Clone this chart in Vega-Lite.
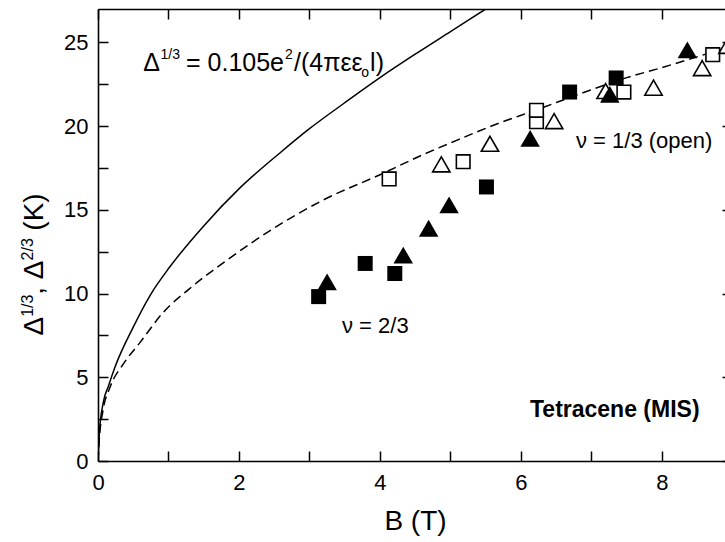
{
  "$schema": "https://vega.github.io/schema/vega-lite/v6.json",
  "width": 627,
  "height": 452,
  "autosize": {"type": "none"},
  "padding": {"left": 98, "top": 9, "right": 0, "bottom": 81},
  "background": "white",
  "config": {
    "view": {"stroke": null},
    "axis": {
      "grid": false,
      "domainColor": "black",
      "domainWidth": 1.6,
      "tickColor": "black",
      "tickWidth": 1.5,
      "labelFont": "Liberation Sans",
      "labelFontSize": 22,
      "labelColor": "black",
      "labelFlush": false,
      "labelOverlap": false,
      "titleFont": "Liberation Sans",
      "titleColor": "black",
      "titleFontWeight": "normal"
    },
    "text": {"font": "Liberation Sans", "color": "black"}
  },
  "datasets": {
    "solid": [
      {"B": 0, "D": 0}, {"B": 0.02, "D": 1.7}, {"B": 0.075, "D": 3.5}, {"B": 0.15, "D": 4.5},
      {"B": 0.24, "D": 5.6}, {"B": 0.5, "D": 8.0}, {"B": 0.74, "D": 9.9}, {"B": 1.02, "D": 11.6},
      {"B": 1.49, "D": 14.0}, {"B": 2.01, "D": 16.3}, {"B": 2.58, "D": 18.4}, {"B": 3.0, "D": 19.85},
      {"B": 3.5, "D": 21.4}, {"B": 4.0, "D": 22.9}, {"B": 4.5, "D": 24.3}, {"B": 5.0, "D": 25.65},
      {"B": 5.5, "D": 27.0}
    ],
    "dashed": [
      {"B": 0, "D": 0}, {"B": 0.02, "D": 1.4}, {"B": 0.07, "D": 3.0}, {"B": 0.17, "D": 4.4},
      {"B": 0.36, "D": 5.8}, {"B": 0.6, "D": 7.1}, {"B": 0.93, "D": 8.9}, {"B": 1.3, "D": 10.3},
      {"B": 1.83, "D": 12.0}, {"B": 2.53, "D": 14.0}, {"B": 3.2, "D": 15.6}, {"B": 4.0, "D": 17.1},
      {"B": 4.61, "D": 18.3}, {"B": 5.0, "D": 19.0}, {"B": 5.7, "D": 20.2}, {"B": 6.17, "D": 20.9},
      {"B": 6.88, "D": 22.0}, {"B": 7.5, "D": 22.9}, {"B": 8.0, "D": 23.5}, {"B": 8.54, "D": 24.2},
      {"B": 9.0, "D": 24.8}
    ],
    "gaps": [
      {"B": 3.13, "D": 9.82, "nu": "2/3", "run": "A"},
      {"B": 3.79, "D": 11.8, "nu": "2/3", "run": "A"},
      {"B": 4.21, "D": 11.2, "nu": "2/3", "run": "A"},
      {"B": 5.51, "D": 16.37, "nu": "2/3", "run": "A"},
      {"B": 6.69, "D": 22.04, "nu": "2/3", "run": "A"},
      {"B": 7.35, "D": 22.88, "nu": "2/3", "run": "A"},
      {"B": 3.25, "D": 10.7, "nu": "2/3", "run": "B"},
      {"B": 4.33, "D": 12.3, "nu": "2/3", "run": "B"},
      {"B": 4.69, "D": 13.9, "nu": "2/3", "run": "B"},
      {"B": 4.98, "D": 15.3, "nu": "2/3", "run": "B"},
      {"B": 6.13, "D": 19.27, "nu": "2/3", "run": "B"},
      {"B": 7.26, "D": 21.9, "nu": "2/3", "run": "B"},
      {"B": 8.36, "D": 24.56, "nu": "2/3", "run": "B"},
      {"B": 4.13, "D": 16.85, "nu": "1/3", "run": "A"},
      {"B": 5.18, "D": 17.88, "nu": "1/3", "run": "A"},
      {"B": 6.22, "D": 20.27, "nu": "1/3", "run": "A"},
      {"B": 6.22, "D": 20.95, "nu": "1/3", "run": "A"},
      {"B": 7.46, "D": 22.04, "nu": "1/3", "run": "A"},
      {"B": 8.72, "D": 24.27, "nu": "1/3", "run": "A"},
      {"B": 4.87, "D": 17.72, "nu": "1/3", "run": "B"},
      {"B": 5.56, "D": 18.95, "nu": "1/3", "run": "B"},
      {"B": 6.47, "D": 20.3, "nu": "1/3", "run": "B"},
      {"B": 7.2, "D": 22.1, "nu": "1/3", "run": "B"},
      {"B": 7.88, "D": 22.3, "nu": "1/3", "run": "B"},
      {"B": 8.57, "D": 23.47, "nu": "1/3", "run": "B"},
      {"B": 8.93, "D": 24.8, "nu": "1/3", "run": "B"}
    ],
    "eqMain": [
      {"B": 0.643, "D": 23.27, "t": "Δ"},
      {"B": 1.248, "D": 23.27, "t": "= 0.105e"},
      {"B": 2.78, "D": 23.27, "t": "/(4πεε"},
      {"B": 3.86, "D": 23.27, "t": "l)"}
    ],
    "eqSup": [
      {"B": 0.887, "D": 23.99, "t": "1/3"},
      {"B": 2.652, "D": 23.99, "t": "2"}
    ],
    "eqSub": [
      {"B": 3.735, "D": 22.95, "t": "o"}
    ],
    "ytMain": [
      {"B": -0.78, "D": 7.5, "t": "Δ"},
      {"B": -0.78, "D": 9.93, "t": ","},
      {"B": -0.78, "D": 10.86, "t": "Δ"},
      {"B": -0.78, "D": 13.76, "t": "(K)"}
    ],
    "ytSup": [
      {"B": -0.922, "D": 8.61, "t": "1/3"},
      {"B": -0.922, "D": 11.98, "t": "2/3"}
    ],
    "notes": [
      {"B": 3.461, "D": 7.62, "t": "ν = 2/3"},
      {"B": 6.78, "D": 18.69, "t": "ν = 1/3 (open)"}
    ],
    "sample": [
      {"B": 6.128, "D": 2.62, "t": "Tetracene (MIS)"}
    ]
  },
  "layer": [
    {
      "data": {"name": "solid"},
      "mark": {"type": "line", "color": "black", "strokeWidth": 1.5, "interpolate": "monotone", "clip": true},
      "encoding": {
        "x": {
          "field": "B", "type": "quantitative",
          "scale": {"domain": [0, 8.894], "nice": false, "zero": false},
          "axis": {
            "orient": "bottom",
            "values": [0, 1, 2, 3, 4, 5, 6, 7, 8],
            "labelExpr": "datum.value % 2 === 0 ? datum.label : ''",
            "tickSize": -10,
            "encode": {"ticks": {"update": {"y2": {"signal": "datum.value % 2 === 0 ? -10 : -5"}}}},
            "labelPadding": 21,
            "title": "B (T)",
            "titleFontSize": 28,
            "titleX": 317,
            "titleY": 68,
            "titleBaseline": "alphabetic",
            "titleAlign": "center"
          }
        },
        "y": {
          "field": "D", "type": "quantitative",
          "scale": {"domain": [0, 27], "nice": false, "zero": true},
          "axis": {
            "orient": "left",
            "values": [0, 2.5, 5, 7.5, 10, 12.5, 15, 17.5, 20, 22.5, 25],
            "labelExpr": "datum.value % 5 === 0 ? datum.label : ''",
            "tickSize": -10,
            "encode": {"ticks": {"update": {"x2": {"signal": "datum.value % 5 === 0 ? 10 : 5"}}}},
            "labelPadding": 20,
            "title": null
          }
        }
      }
    },
    {
      "data": {"name": "dashed"},
      "mark": {"type": "line", "color": "black", "strokeWidth": 1.5, "strokeDash": [9, 5], "interpolate": "monotone", "clip": true},
      "encoding": {
        "x": {
          "field": "B", "type": "quantitative",
          "scale": {"domain": [0, 8.894], "nice": false, "zero": false},
          "axis": {
            "orient": "top",
            "values": [0, 1, 2, 3, 4, 5, 6, 7, 8],
            "labels": false,
            "tickSize": -10,
            "encode": {"ticks": {"update": {"y2": {"signal": "datum.value % 2 === 0 ? 10 : 5"}}}},
            "title": null
          }
        },
        "y": {
          "field": "D", "type": "quantitative",
          "scale": {"domain": [0, 27], "nice": false, "zero": true},
          "axis": {
            "orient": "right",
            "values": [0, 5, 10, 15, 20, 25],
            "labels": false,
            "domain": false,
            "tickSize": -3,
            "title": null
          }
        }
      }
    },
    {
      "data": {"name": "gaps"},
      "transform": [{"filter": "datum.nu === '1/3' && datum.run === 'A'"}],
      "mark": {"type": "point", "shape": "square", "size": 185, "filled": true, "fill": "white", "stroke": "black", "strokeWidth": 1.6, "opacity": 1},
      "encoding": {
        "x": {"field": "B", "type": "quantitative", "scale": {"domain": [0, 8.894], "nice": false, "zero": false}, "axis": null},
        "y": {"field": "D", "type": "quantitative", "scale": {"domain": [0, 27], "nice": false, "zero": true}, "axis": null}
      }
    },
    {
      "data": {"name": "gaps"},
      "transform": [{"filter": "datum.nu === '1/3' && datum.run === 'B'"}],
      "mark": {"type": "point", "shape": "triangle-up", "size": 300, "filled": true, "fill": "white", "stroke": "black", "strokeWidth": 1.6, "opacity": 1},
      "encoding": {
        "x": {"field": "B", "type": "quantitative", "scale": {"domain": [0, 8.894], "nice": false, "zero": false}, "axis": null},
        "y": {"field": "D", "type": "quantitative", "scale": {"domain": [0, 27], "nice": false, "zero": true}, "axis": null}
      }
    },
    {
      "data": {"name": "gaps"},
      "transform": [{"filter": "datum.nu === '2/3' && datum.run === 'A'"}],
      "mark": {"type": "point", "shape": "square", "size": 225, "filled": true, "fill": "black", "strokeWidth": 0, "opacity": 1},
      "encoding": {
        "x": {"field": "B", "type": "quantitative", "scale": {"domain": [0, 8.894], "nice": false, "zero": false}, "axis": null},
        "y": {"field": "D", "type": "quantitative", "scale": {"domain": [0, 27], "nice": false, "zero": true}, "axis": null}
      }
    },
    {
      "data": {"name": "gaps"},
      "transform": [{"filter": "datum.nu === '2/3' && datum.run === 'B'"}],
      "mark": {"type": "point", "shape": "triangle-up", "size": 380, "filled": true, "fill": "black", "strokeWidth": 0, "opacity": 1},
      "encoding": {
        "x": {"field": "B", "type": "quantitative", "scale": {"domain": [0, 8.894], "nice": false, "zero": false}, "axis": null},
        "y": {"field": "D", "type": "quantitative", "scale": {"domain": [0, 27], "nice": false, "zero": true}, "axis": null}
      }
    },
    {
      "data": {"name": "eqMain"},
      "mark": {"type": "text", "align": "left", "baseline": "alphabetic", "fontSize": 25},
      "encoding": {
        "x": {"field": "B", "type": "quantitative", "scale": {"domain": [0, 8.894], "nice": false, "zero": false}, "axis": null},
        "y": {"field": "D", "type": "quantitative", "scale": {"domain": [0, 27], "nice": false, "zero": true}, "axis": null},
        "text": {"field": "t"}
      }
    },
    {
      "data": {"name": "eqSup"},
      "mark": {"type": "text", "align": "left", "baseline": "alphabetic", "fontSize": 14},
      "encoding": {
        "x": {"field": "B", "type": "quantitative", "scale": {"domain": [0, 8.894], "nice": false, "zero": false}, "axis": null},
        "y": {"field": "D", "type": "quantitative", "scale": {"domain": [0, 27], "nice": false, "zero": true}, "axis": null},
        "text": {"field": "t"}
      }
    },
    {
      "data": {"name": "eqSub"},
      "mark": {"type": "text", "align": "left", "baseline": "alphabetic", "fontSize": 14},
      "encoding": {
        "x": {"field": "B", "type": "quantitative", "scale": {"domain": [0, 8.894], "nice": false, "zero": false}, "axis": null},
        "y": {"field": "D", "type": "quantitative", "scale": {"domain": [0, 27], "nice": false, "zero": true}, "axis": null},
        "text": {"field": "t"}
      }
    },
    {
      "data": {"name": "ytMain"},
      "mark": {"type": "text", "align": "left", "baseline": "alphabetic", "angle": 270, "fontSize": 28},
      "encoding": {
        "x": {"field": "B", "type": "quantitative", "scale": {"domain": [0, 8.894], "nice": false, "zero": false}, "axis": null},
        "y": {"field": "D", "type": "quantitative", "scale": {"domain": [0, 27], "nice": false, "zero": true}, "axis": null},
        "text": {"field": "t"}
      }
    },
    {
      "data": {"name": "ytSup"},
      "mark": {"type": "text", "align": "left", "baseline": "alphabetic", "angle": 270, "fontSize": 16},
      "encoding": {
        "x": {"field": "B", "type": "quantitative", "scale": {"domain": [0, 8.894], "nice": false, "zero": false}, "axis": null},
        "y": {"field": "D", "type": "quantitative", "scale": {"domain": [0, 27], "nice": false, "zero": true}, "axis": null},
        "text": {"field": "t"}
      }
    },
    {
      "data": {"name": "notes"},
      "mark": {"type": "text", "align": "left", "baseline": "alphabetic", "fontSize": 22},
      "encoding": {
        "x": {"field": "B", "type": "quantitative", "scale": {"domain": [0, 8.894], "nice": false, "zero": false}, "axis": null},
        "y": {"field": "D", "type": "quantitative", "scale": {"domain": [0, 27], "nice": false, "zero": true}, "axis": null},
        "text": {"field": "t"}
      }
    },
    {
      "data": {"name": "sample"},
      "mark": {"type": "text", "align": "left", "baseline": "alphabetic", "fontSize": 23, "fontWeight": "bold"},
      "encoding": {
        "x": {"field": "B", "type": "quantitative", "scale": {"domain": [0, 8.894], "nice": false, "zero": false}, "axis": null},
        "y": {"field": "D", "type": "quantitative", "scale": {"domain": [0, 27], "nice": false, "zero": true}, "axis": null},
        "text": {"field": "t"}
      }
    }
  ],
  "resolve": {"axis": {"x": "independent", "y": "independent"}}
}
